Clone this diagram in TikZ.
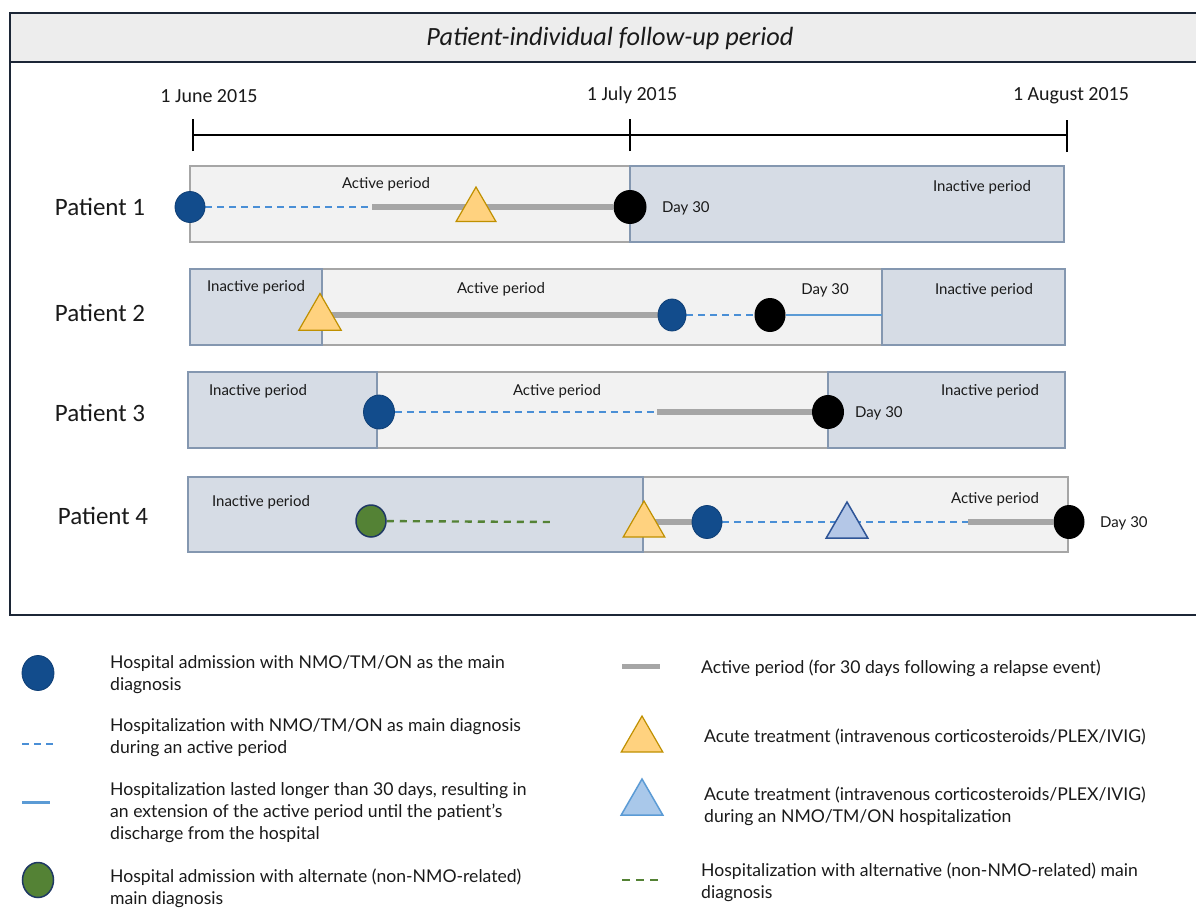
\documentclass[tikz,border=0pt]{standalone}
\usepackage{fontspec}
\setmainfont{Lato}
\newfontfamily\calfont{Carlito}
\usetikzlibrary{shapes.geometric}
\definecolor{frameC}{HTML}{1C2636}
\definecolor{headC}{HTML}{EDEDED}
\definecolor{actF}{HTML}{F2F2F2}
\definecolor{actD}{HTML}{A6A6A6}
\definecolor{inaF}{HTML}{D6DCE5}
\definecolor{inaD}{HTML}{8497B0}
\definecolor{nmoB}{HTML}{124C8C}
\definecolor{nmoD}{HTML}{0E3E75}
\definecolor{dashB}{HTML}{4A8FD6}
\definecolor{solB}{HTML}{5B9BD5}
\definecolor{grayL}{HTML}{A6A6A6}
\definecolor{yelF}{HTML}{FFD27F}
\definecolor{yelD}{HTML}{BF9000}
\definecolor{bluF}{HTML}{B4C7E7}
\definecolor{bluD}{HTML}{2F5597}
\definecolor{lbluF}{HTML}{A9C8EA}
\definecolor{grnF}{HTML}{548235}
\definecolor{grnD}{HTML}{1F3864}
\definecolor{txt}{HTML}{1A1A1A}
\pgfdeclarelayer{bg}\pgfdeclarelayer{lines}
\pgfsetlayers{bg,lines,main}
\tikzset{
  actbox/.style={fill=actF,draw=actD,line width=1.6pt},
  inabox/.style={fill=inaF,draw=inaD,line width=1.6pt},
  bluedot/.style={ellipse,fill=nmoB,draw=nmoD,line width=0.8pt,minimum width=30pt,minimum height=31pt,inner sep=0pt},
  blackdot/.style={ellipse,fill=black,minimum width=33pt,minimum height=34pt,inner sep=0pt},
  greendot/.style={ellipse,fill=grnF,draw=grnD,line width=1.5pt,minimum width=30pt,minimum height=32pt,inner sep=0pt},
  yeltri/.style={regular polygon,regular polygon sides=3,fill=yelF,draw=yelD,line width=1.2pt,minimum size=46pt,inner sep=0pt},
  blutri/.style={regular polygon,regular polygon sides=3,fill=bluF,draw=bluD,line width=1.5pt,minimum size=46pt,inner sep=0pt},
  hospdash/.style={dashB,line width=2.2pt,dash pattern=on 7pt off 5pt},
  altdash/.style={grnF,line width=2.4pt,dash pattern=on 7pt off 6pt},
  actline/.style={grayL,line width=5.5pt},
  extline/.style={solB,line width=2.8pt},
  lbl/.style={font=\fontsize{15}{18}\selectfont,text=txt,inner sep=0pt},
  plbl/.style={font=\calfont\fontsize{25}{28}\selectfont,text=txt,inner sep=0pt},
  dlbl/.style={font=\calfont\fontsize{20}{24}\selectfont,text=txt,inner sep=0pt},
  leg/.style={font=\fontsize{17.6}{22}\selectfont,text=txt,anchor=west,align=left,inner sep=0pt},
}
\begin{document}
\begin{tikzpicture}[x=1pt,y=-1pt]
\useasboundingbox (0,0) rectangle (1196,908);
% frame
\begin{pgfonlayer}{bg}
\fill[white] (0,0) rectangle (1196,908);
\filldraw[fill=headC,draw=frameC,line width=2pt] (10,13) rectangle (1200,62);
\draw[frameC,line width=2pt] (1200,62) -- (10,62) -- (10,615) -- (1200,615);
% rows
\path[actbox] (190,166) rectangle (630,242);
\path[inabox] (630,166) rectangle (1064,242);
\path[actbox] (322,269) rectangle (882,345);
\path[inabox] (190,269) rectangle (322,345);
\path[inabox] (882,269) rectangle (1065,345);
\path[actbox] (377,372) rectangle (828,448);
\path[inabox] (188,372) rectangle (377,448);
\path[inabox] (828,372) rectangle (1065,448);
\path[actbox] (643,477) rectangle (1068,552);
\path[inabox] (188,477) rectangle (643,552);
\end{pgfonlayer}
\node[font=\calfont\itshape\fontsize{26.3}{30}\selectfont,text=txt] (title) at (610,38) {Patient-individual follow-up period};
% timeline
\coordinate (t0) at (193,135);
\coordinate (t1) at (630,135);
\coordinate (t2) at (1067,135);
\draw[line width=2pt] (t0) -- (t2);
\draw[line width=2pt] ([yshift=-16pt]t0) -- ([yshift=16pt]t0);
\draw[line width=2pt] ([yshift=-16pt]t1) -- ([yshift=16pt]t1);
\draw[line width=2pt] ([yshift=-17pt]t2) -- ([yshift=15pt]t2);
\node[dlbl] (d0) at (209,96) {1 June 2015};
\node[dlbl] (d1) at (632,95) {1 July 2015};
\node[dlbl] (d2) at (1071,96) {1 August 2015};
% patient labels
\node[plbl] (p1) at (100,207) {Patient 1};
\node[plbl] (p2) at (100,313) {Patient 2};
\node[plbl] (p3) at (100,413) {Patient 3};
\node[plbl] (p4) at (103,516) {Patient 4};
% ---- Patient 1
\node[bluedot] (b1) at (190,207) {};
\node[yeltri] (y1) at (476,210) {};
\node[blackdot] (k1) at (630,207) {};
\coordinate (c1) at (372,207);
\node[lbl] (a1) at (386,184) {Active period};
\node[lbl] (i1) at (982,187) {Inactive period};
\node[lbl,anchor=west] (day1) at (662,208) {Day 30};
\begin{pgfonlayer}{lines}
\draw[hospdash] (b1) -- (c1);
\draw[actline] (c1) -- (k1);
\end{pgfonlayer}
% ---- Patient 2
\node[yeltri,minimum size=49pt] (y2) at (320,318) {};
\node[bluedot,minimum width=28pt,minimum height=32pt] (b2) at (672,315) {};
\node[blackdot,minimum width=31pt] (k2) at (770,315) {};
\coordinate (e2) at (882,315);
\node[lbl] (i2a) at (256,287) {Inactive period};
\node[lbl] (a2) at (501,289) {Active period};
\node[lbl] (day2) at (825,290) {Day 30};
\node[lbl] (i2b) at (984,290) {Inactive period};
\begin{pgfonlayer}{lines}
\draw[actline] (b2.center -| y2.center) -- (b2);
\draw[hospdash] (b2) -- (k2);
\draw[extline] (k2) -- (e2);
\end{pgfonlayer}
% ---- Patient 3
\node[bluedot,minimum width=31pt,minimum height=34pt] (b3) at (379,412) {};
\node[blackdot,minimum width=32pt,minimum height=34pt] (k3) at (828,412) {};
\coordinate (c3) at (657,412);
\node[lbl] (i3a) at (258,391) {Inactive period};
\node[lbl] (a3) at (557,391) {Active period};
\node[lbl] (i3b) at (990,391) {Inactive period};
\node[lbl,anchor=west] (day3) at (855,413) {Day 30};
\begin{pgfonlayer}{lines}
\draw[hospdash] (b3) -- (c3);
\draw[actline] (c3) -- (k3);
\end{pgfonlayer}
% ---- Patient 4
\node[greendot] (g4) at (371,521) {};
\coordinate (ge4) at (550,522);
\node[yeltri,minimum size=48pt] (y4) at (644,525) {};
\node[bluedot,minimum width=30pt,minimum height=33pt] (b4) at (707,522) {};
\node[blutri,minimum size=48pt] (bt4) at (847,526) {};
\coordinate (c4) at (968,522);
\node[blackdot,minimum width=31pt] (k4) at (1069,522) {};
\node[lbl] (i4) at (261,502) {Inactive period};
\node[lbl] (a4) at (995,499) {Active period};
\node[lbl,anchor=west] (day4) at (1100,523) {Day 30};
\begin{pgfonlayer}{lines}
\draw[altdash] (g4) -- (ge4);
\draw[actline] (b4.center -| y4.center) -- (b4);
\draw[hospdash] (b4) -- (c4);
\draw[actline] (c4) -- (k4);
\end{pgfonlayer}
% ---- Legend left
\node[bluedot,minimum width=32pt,minimum height=35pt] (lb) at (38,673) {};
\node[leg] (lbt) at (110,675) {Hospital admission with NMO/TM/ON as the main\\diagnosis};
\coordinate (lh0) at (22,744); \coordinate (lh1) at (55,744);
\draw[hospdash,line width=2pt,dash pattern=on 7pt off 5pt] (lh0) -- (lh1);
\node[leg] (lht) at (110,738) {Hospitalization with NMO/TM/ON as main diagnosis\\during an active period};
\coordinate (le0) at (22,802); \coordinate (le1) at (50,802);
\draw[extline,line width=3pt] (le0) -- (le1);
\node[leg] (let) at (110,813) {Hospitalization lasted longer than 30 days, resulting in\\an extension of the active period until the patient's\\discharge from the hospital};
\node[greendot,minimum width=31pt,minimum height=35pt] (lg) at (38,880) {};
\node[leg] (lgt) at (110,888) {Hospital admission with alternate (non-NMO-related)\\main diagnosis};
% ---- Legend right
\coordinate (la0) at (622,666); \coordinate (la1) at (660,666);
\draw[actline,line width=5pt] (la0) -- (la1);
\node[leg] (lat) at (701,668) {Active period (for 30 days following a relapse event)};
\node[yeltri,minimum size=48pt] (ly) at (642,740) {};
\node[leg] (lyt) at (704,737) {Acute treatment (intravenous corticosteroids/PLEX/IVIG)};
\node[blutri,fill=lbluF,draw=solB,minimum size=48pt] (lbt2) at (642,803) {};
\node[leg] (lbtt) at (704,806) {Acute treatment (intravenous corticosteroids/PLEX/IVIG)\\during an NMO/TM/ON hospitalization};
\coordinate (lgd0) at (622,880); \coordinate (lgd1) at (660,880);
\draw[altdash,line width=2pt,dash pattern=on 8pt off 6pt] (lgd0) -- (lgd1);
\node[leg] (lgdt) at (701,882) {Hospitalization with alternative (non-NMO-related) main\\diagnosis};
\end{tikzpicture}
\end{document}
